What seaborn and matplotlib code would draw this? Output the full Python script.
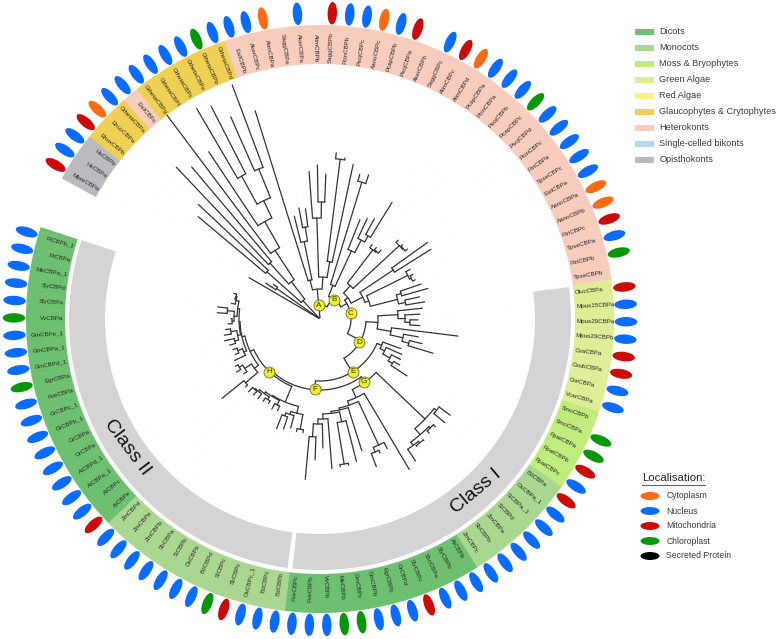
import numpy as np
import pandas as pd
import matplotlib
matplotlib.use("Agg")
import matplotlib.pyplot as plt
from matplotlib.markers import MarkerStyle
from matplotlib.transforms import Affine2D
import seaborn as sns

# ---------- data ----------
tip_labels = [
 "MbreCBPa","HsCBPa","HsCBPb","EhuxCBPb","EhuxCBPa","GthetaCBPa","EsilCBPc","GthetaCBPg","GthetaCBPf","GthetaCBPc",
 "GthetaCBPe","GthetaCBPb","GthetaCBPd","EsilCBPb","AkerCBPc","AlimCBPa","SaggCBPa","AkerCBPa","AlimCBPb","SaggCBPb",
 "PcinCBPb","PsojCBPc","AanoCBPc","PcapCBPb","PsojCBPa","AkerCBPb","SaggCBPc","AlimCBPc","AlimCBPd","PcapCBPa",
 "PcinCBPa","PsojCBPb","PcapCBPc","PsojCBPd","PcinCBPc","PtriCBPa","TpseCBPc","EsilCBPa","AanoCBPa","AanoCBPb",
 "PtriCBPc","TpseCBPa","PtriCBPb","TpseCBPb","OlucCBPa","Mpus15CBPa","Mpus29CBPa","Mpus29CBPb","CvaCBPa","CsubCBPa",
 "CreCBPa","VcarCBPa","SmoCBPb","SmoCBPa","PpatCBPa","PpatCBPb","PpatCBPc","BdCBPa","OsCBPa_1","SiCBPa_1",
 "SiCBPd","ZmCBPa","SbCBPb","ZmCBPc","AtCBPb","SlyCBPb","SbcCBPa","SlyCBPc","GrCBPd","EgrCBPb",
 "GmCBPb","GmCBPc","MeCBPb","VvCBPb","FveCBPb","FveCBPc","BdCBPb","BdCBPc","OsCBPc_1","SbCBPc",
 "SiCBPc","BdCBPd","OsCBPb","SiCBPb","SbCBPa","ZmCBPb","ZmCBPe","ZmCBPd","AtCBPe","AtCBPc",
 "AtCBPa_1","AtCBPd_1","GrCBPe","GrCBPa","GrCBPb_1","GrCBPc_1","FveCBPa","EgrCBPa","GmCBPd_1","GmCBPa_1",
 "GmCBPe_1","VvCBPa","SlyCBPa","SlyCBPd","MeCBPa_1","PtCBPa","PtCBPb_1"]

tip_loc = list("MNNMONNNNNNCNNNO-N-MNNONM-NMONNNCNNNNNOOMNC-"
               "MNNNMMNN-CCMNMNNNNNNNNNMNNNCCNNN"
               "NNNMCNNNNNNN"
               "MNNNNNNNNCNNNCNNNNN")

clade_names = ["Opisthokonts","Glaucophytes & Crytophytes","Heterokonts","Glaucophytes & Crytophytes","Heterokonts",
               "Green Algae","Moss & Bryophytes","Monocots","Dicots","Monocots","Dicots"]
clade_counts = [3, 3, 1, 6, 31, 8, 5, 7, 12, 12, 19]

legend_names = ["Dicots","Monocots","Moss & Bryophytes","Green Algae","Red Algae","Glaucophytes & Crytophytes",
                "Heterokonts","Single-celled bikonts","Opisthokonts"]
legend_colors = ["#6DC070","#A9D78F","#C0EC7C","#DDEE96","#F7F57F","#EFD052","#F8CDBD","#B5D8EF","#BBBBBF"]

loc_codes = ["O","N","M","C","S"]
loc_names = ["Cytoplasm","Nucleus","Mitochondria","Chloroplast","Secreted Protein"]
loc_colors = ["#FF6A13","#0A6CFF","#CC0A0A","#07960A","#000000"]

class_names = ["Class I","Class II"]
class_theta_from = [82.7, 187.4]
class_theta_to = [186.3, 288.3]

tip_r = [82,65,58,159,167,209,199,255,201,244,239,221,250,218,106,113,111,148,154,145,
         167,163,158,150,152,107,111,114,137,91,91,92,111,111,112,132,131,103,103,103,
         107,112,102,106,103,100,98,100,139,100,105,118,86,89,90,92,104,162,162,158,
         158,160,160,171,175,146,147,158,138,147,149,149,150,129,141,161,115,115,113,116,
         118,101,102,99,100,101,101,102,101,126,94,99,97,95,92,92,94,98,97,95,
         92,89,103,103,90,88,90]

tip_parent = ["root","hs","hs","n71","n71","n75","n75","n82","n112","n163","n163","n162","n162","t2","n79","n93","n93",
 "n101","n117","n117","n161","n161","n58","n143","n143","n75b","n89","n96","n96","n87","n88b","n88b","n108","n109","n109",
 "n88","n88","n98","n100","n100","n85","n85","n87c","n87c","d1a","nm","nm2","nm2","d1b","nc","nc2","nc2","eup","e2","e3",
 "e4","e4","n148","n148","n155","n155","n160","n160","g1c","g2","n139","n146","n146","g4","n105","n148b","n148b","g6","g7",
 "g8","g8","n112b","n112b","cd","ce2","ce2","ce","ce","cg","cg","ch","ci","ci","cm","cm","cn","co","co","cp","cr","cr",
 "cu","cu","cv","cv","cy","cy","cz","cz","cx","da","da"]

node_names = ["root","hs","n25","n71","n47","n75","n82","n112","n131","n163","n162","A","n30","t2","n79","n93","t3","n101",
 "n117","n58","n161","B","b1","n143","n75b","n89","n96","C","c1","c2","n87","n88b","n108","n109","c3","n88","c4","n98",
 "n100","n80","n85","n87c","D","d1","d1a","nm","nm2","d1b","nc","nc2","E","eup","e2","e3","e4","F","G","g1","n148","g1b",
 "n155","g1c","n160","g2","g3","n139","n146","g4","g5","n105","n148b","g6","g7","g8","H","ca","cb","n112b","cd","ce2",
 "cc","ce","cf","cg","ch","ci","cj","ck","cm","cn","co","cl","cp","cr","cq","cs","cu","cv","ct","cw","cy","cz","cx","da"]
node_parent = [None,"root","root","n25","n25","n47","n47","n82","n112","n131","n131","root","A","n30","t2","n79","n30","t3",
 "n101","t3","n58","A","B","b1","b1","n75b","n89","B","C","c1","c2","n87","c2","n108","c1","c3","c3","c4",
 "n98","c4","n80","n80","C","D","d1","d1a","nm","d1","d1b","nc","D","E","eup","e2","e3","E","F","G","g1","g1",
 "g1b","g1b","g1c","G","g2","g3","n139","g3","g4","g5","n105","g5","g6","g7","F","H","ca","cb","cb","cd",
 "ca","cc","cc","cf","cf","ch","H","cj","ck","ck","cn","cj","cl","cp","cl","cq","cs","cs","cq","ct","cw","cw","ct","cx"]
node_r = [1.5,53,25,71,47,75,82,112,131,163,162,14,30,40,79,93,42,101,
 117,58,161,24,36,143,75,89,96,31,35,45,87,88,108,109,48,88,52,98,
 100,80,85,87,46,58,78,85,90,72,85,92,62,67,72,80,85,71,77.5,145,148,153,
 155,157,159,86.5,91,139,144,93,95,105,147,100,105,118,73,90,97,112,100,103,
 91,96,93,96,95,96,77,82,98,90,94,80,83,88,81,84,88,90,83,86,88,93,86,87]
node_theta_fixed = {"A": 356.0, "B": 390.0, "C": 420.0, "D": 478.0}

marker_letters = ["A","B","C","D","E","F","G","H"]
marker_r = [14, 24, 31.5, 45.6, 62, 70.5, 76.6, 73]
marker_theta = [356, 36.5, 79.6, 121, 148, 184, 145, 224]

# ---------- layout ----------
sns.set_theme(style="white")
plt.rcParams["font.family"] = ["Liberation Sans", "DejaVu Sans"]

FIG_W, FIG_H = 778, 639
CX, CY, RMAX = 320, 319, 320
START, STEP = 298.6, 3.267
RING_IN, RING_OUT, OVAL_R = 255, 294, 306

fig = plt.figure(figsize=(FIG_W / 100, FIG_H / 100), dpi=100, facecolor="white")
ax = fig.add_axes([(CX - RMAX) / FIG_W, (FIG_H - CY - RMAX) / FIG_H, 2 * RMAX / FIG_W, 2 * RMAX / FIG_H],
                  projection="polar")
ax.set_theta_zero_location("N")
ax.set_theta_direction(-1)

n_tips = len(tip_labels)
tip_theta = START + (np.arange(n_tips) + 0.5) * STEP
tip_clade = np.repeat(clade_names, clade_counts)
clade_color = dict(zip(legend_names, legend_colors))
loc_color = dict(zip(loc_codes, loc_colors))

# ---------- tree geometry ----------
parent_r = dict(zip(node_names, node_r))
children = {n: [] for n in node_names}
for n, p in zip(node_names, node_parent):
    if p is not None:
        children[p].append(("node", n))
for i, p in enumerate(tip_parent):
    children[p].append(("tip", i))

node_angle = {}
def angle_of(kind, key):
    if kind == "tip":
        return tip_theta[key]
    if key in node_angle:
        return node_angle[key]
    ch = [angle_of(*c) for c in children[key]]
    mid = (min(ch) + max(ch)) / 2
    node_angle[key] = node_theta_fixed.get(key, mid)
    return node_angle[key]
angle_of("node", "root")

rows = []
seg = 0
def add_seg(th, r):
    global seg
    for a, b in zip(th, r):
        rows.append((np.deg2rad(a % 360), b, seg))
    seg += 1

for n, p in zip(node_names, node_parent):
    th = node_angle[n]
    if p is not None:
        add_seg([th, th], [parent_r[p], parent_r[n]])
    ch = [angle_of(*c) for c in children[n]] + [th]
    lo, hi = min(ch), max(ch)
    num = max(2, int((hi - lo) / 1.5) + 2)
    add_seg(np.linspace(lo, hi, num), np.full(num, parent_r[n]))
for i, p in enumerate(tip_parent):
    add_seg([tip_theta[i], tip_theta[i]], [parent_r[p], tip_r[i]])
tree = pd.DataFrame(rows, columns=["theta", "r", "seg"])

# ---------- faint guides from tips to the ring ----------
for i in range(n_tips):
    if tip_r[i] < RING_IN:
        ax.plot([np.deg2rad(tip_theta[i] % 360)] * 2, [tip_r[i], RING_IN], color="#f1f1f1", lw=0.4,
                ls=(0, (1, 3)), zorder=0.5)

# ---------- class arcs ----------
for a, b in zip(class_theta_from, class_theta_to):
    ax.bar(np.deg2rad((a + b) / 2), 36, width=np.deg2rad(b - a), bottom=215, color="#D4D4D4", linewidth=0, zorder=1)

# ---------- clade ring ----------
for i in range(n_tips):
    ax.bar(np.deg2rad(tip_theta[i] % 360), RING_OUT - RING_IN, width=np.deg2rad(STEP * 1.03), bottom=RING_IN,
           color=clade_color[tip_clade[i]], linewidth=0, zorder=1)

# ---------- branches ----------
sns.lineplot(data=tree, x="theta", y="r", units="seg", estimator=None, sort=False,
             color="#333333", linewidth=0.9, ax=ax, legend=False)

# ---------- tip labels ----------
for i, lab in enumerate(tip_labels):
    t = tip_theta[i] % 360
    if t <= 180:
        rot, ha = 90 - t, "left"
    else:
        rot, ha = 270 - t, "right"
    ax.text(np.deg2rad(t), 256.5, lab, rotation=rot, rotation_mode="anchor", ha=ha, va="center",
            fontsize=4.5, color="#2a2a2a")

# ---------- localisation ovals ----------
for i, code in enumerate(tip_loc):
    if code == "-":
        continue
    t = tip_theta[i] % 360
    mk = MarkerStyle("o", transform=Affine2D().scale(1, 0.42).rotate_deg(90 - t))
    sns.scatterplot(x=[np.deg2rad(t)], y=[OVAL_R], marker=mk, s=262, color=loc_color[code],
                    edgecolor="none", linewidth=0, ax=ax, legend=False)

# ---------- labelled nodes ----------
sns.scatterplot(x=np.deg2rad(marker_theta), y=marker_r, marker="o", s=62, color="#F3EE2C",
                edgecolor="#6b6b3a", linewidth=0.6, ax=ax, legend=False, zorder=5)
for l, r, t in zip(marker_letters, marker_r, marker_theta):
    ax.text(np.deg2rad(t), r, l, ha="center", va="center", fontsize=5.8, color="#333300", zorder=6)

ax.set_xlim(0, 2 * np.pi)
ax.set_rlim(0, RMAX)
ax.set_xlabel("")
ax.set_ylabel("")
ax.set_axis_off()

# ---------- overlay for the legends and class names ----------
ov = fig.add_axes([0, 0, 1, 1])
ov.set_xlim(0, FIG_W)
ov.set_ylim(FIG_H, 0)
ov.set_axis_off()

for k, (name, col) in enumerate(zip(legend_names, legend_colors)):
    y = 32 + 16 * k
    ov.barh(y, 19, left=635, height=6.5, color=col, linewidth=0)
    ov.text(659.5, y, name, fontsize=6.6, va="center", ha="left", color="#3a3a3a")

ov.text(642, 478, "Localisation:", fontsize=8.2, va="center", ha="left", color="#222222")
ov.plot([642, 705], [485, 485], color="#666666", lw=0.8)
for k, (name, col) in enumerate(zip(loc_names, loc_colors)):
    y = 496 + 15 * k
    sns.scatterplot(x=[650], y=[y], marker=MarkerStyle("o", transform=Affine2D().scale(1, 0.42)), s=187,
                    color=col, edgecolor="none", linewidth=0, ax=ov, legend=False)
    ov.text(666.3, y, name, fontsize=6.2, va="center", ha="left", color="#3a3a3a")

ov.text(476.5, 491.5, class_names[0], fontsize=14, rotation=40, ha="center", va="center",
        rotation_mode="anchor", color="#111111")
ov.text(127, 447, class_names[1], fontsize=14, rotation=-53, ha="center", va="center",
        rotation_mode="anchor", color="#111111")
ov.set_xlim(0, FIG_W)
ov.set_ylim(FIG_H, 0)

fig.savefig("out.png", dpi=100, facecolor="white")
